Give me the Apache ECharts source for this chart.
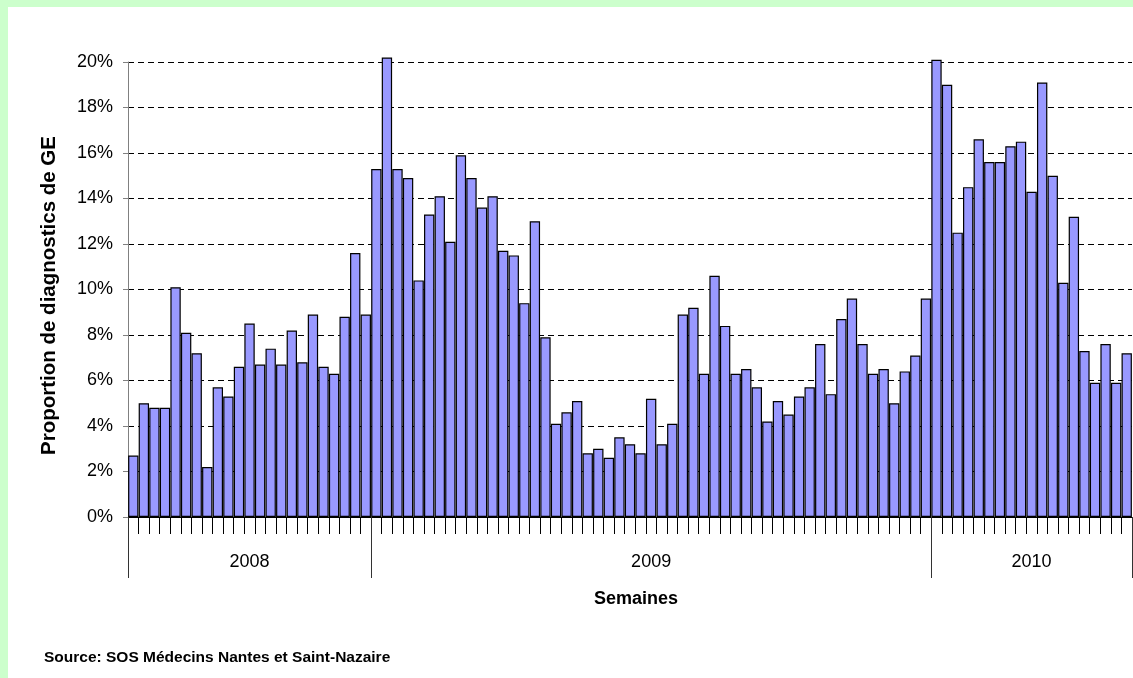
<!DOCTYPE html>
<html>
<head>
<meta charset="utf-8">
<script src="https://cdn.jsdelivr.net/npm/echarts@6/dist/echarts.min.js"></script>
<style>
  html, body { margin: 0; padding: 0; background: #ccffcc; }
  #outer { width: 1133px; height: 678px; background: #ccffcc; position: relative; overflow: hidden; }
  #chart { position: absolute; left: 8px; top: 7px; width: 1125px; height: 671px; background: #ffffff; }
</style>
</head>
<body>
<div id="outer"><div id="chart"></div></div>
<script>
// ---- data ----
const years = ['2008', '2009', '2010'];
const firstWeek = [30, 1, 1];
const values2008 = [2.7, 5.0, 4.8, 4.8, 10.1, 8.1, 7.2, 2.2, 5.7, 5.3, 6.6, 8.5, 6.7, 7.4, 6.7, 8.2, 6.8, 8.9, 6.6, 6.3, 8.8, 11.6, 8.9];
const values2009 = [15.3, 20.2, 15.3, 14.9, 10.4, 13.3, 14.1, 12.1, 15.9, 14.9, 13.6, 14.1, 11.7, 11.5, 9.4, 13.0, 7.9,
  4.1, 4.6, 5.1, 2.8, 3.0, 2.6, 3.5, 3.2, 2.8, 5.2, 3.2, 4.1, 8.9, 9.2, 6.3, 10.6, 8.4, 6.3, 6.5, 5.7, 4.2, 5.1, 4.5,
  5.3, 5.7, 7.6, 5.4, 8.7, 9.6, 7.6, 6.3, 6.5, 5.0, 6.4, 7.1, 9.6];
const values2010 = [20.1, 19.0, 12.5, 14.5, 16.6, 15.6, 15.6, 16.3, 16.5, 14.3, 19.1, 15.0, 10.3, 13.2, 7.3, 5.9, 7.6, 5.9, 7.2];
const yTicks = [0, 2, 4, 6, 8, 10, 12, 14, 16, 18, 20];

// ---- build ----
const perYear = [values2008, values2009, values2010];
const categories = [];
const values = [];
const boundaries = [0];
const labelPos = [];
perYear.forEach((arr, i) => {
  arr.forEach((v, j) => {
    categories.push(years[i] + '-S' + (firstWeek[i] + j));
    values.push(v);
  });
  const start = boundaries[boundaries.length - 1];
  const end = start + arr.length;
  labelPos.push((start + end) / 2);
  boundaries.push(end);
});
const total = values.length;
function yearAt(v) {
  for (let i = 0; i < labelPos.length; i++) if (Math.abs(labelPos[i] - v) < 1e-6) return years[i];
  return '';
}

const FONT = "'Liberation Sans', Arial, sans-serif";
const chart = echarts.init(document.getElementById('chart'), null, { renderer: 'canvas' });
chart.setOption({
  animation: false,
  backgroundColor: '#ffffff',
  title: {
    text: 'Source: SOS Médecins Nantes et Saint-Nazaire',
    left: 31, top: 638,
    textStyle: { fontFamily: FONT, fontSize: 15.5, fontWeight: 'bold', color: '#000' }
  },
  grid: { left: 120, right: 1, top: 55, bottom: 161, containLabel: false },
  xAxis: [
    {
      type: 'category',
      data: categories,
      position: 'bottom',
      axisLine: { show: true, lineStyle: { color: '#000', width: 1 } },
      axisTick: { show: true, interval: 0, alignWithLabel: false, length: 17, lineStyle: { color: '#000' } },
      axisLabel: { show: false },
      splitLine: { show: false },
      name: 'Semaines',
      nameLocation: 'middle',
      nameGap: 73,
      nameTextStyle: { fontFamily: FONT, fontSize: 18, fontWeight: 'bold', color: '#000', padding: [0, 0, 0, 12] }
    },
    {
      type: 'value',
      min: 0, max: total,
      position: 'bottom',
      axisLine: { show: false },
      axisTick: { show: true, customValues: boundaries, length: 61, lineStyle: { color: '#333' } },
      axisLabel: {
        show: true, customValues: labelPos, margin: 36,
        formatter: v => yearAt(v),
        fontFamily: FONT, fontSize: 18, color: '#000'
      },
      splitLine: { show: false }
    }
  ],
  yAxis: {
    type: 'value',
    min: 0, max: 20, interval: 2,
    axisLine: { show: true, lineStyle: { color: '#808080', width: 1 } },
    axisTick: { show: true, length: 5, lineStyle: { color: '#808080' } },
    axisLabel: { formatter: '{value}%', margin: 15, fontFamily: FONT, fontSize: 18, color: '#000' },
    splitLine: { show: true, lineStyle: { color: '#000', width: 1, type: [6, 4] } },
    name: 'Proportion de diagnostics de GE',
    nameLocation: 'middle',
    nameRotate: 90,
    nameGap: 68,
    nameTextStyle: { fontFamily: FONT, fontSize: 20.5, fontWeight: 'bold', color: '#000', padding: [0, 12, 0, 0] }
  },
  series: [{
    type: 'bar',
    xAxisIndex: 0,
    data: values,
    clip: false,
    barCategoryGap: '2%',
    itemStyle: { color: '#9999ff', borderColor: '#000', borderWidth: 1.2 }
  }]
});
</script>
</body>
</html>
